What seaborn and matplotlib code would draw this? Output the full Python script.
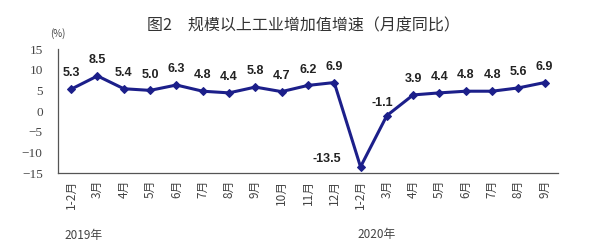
import matplotlib
matplotlib.use("Agg")
import matplotlib.pyplot as plt
import seaborn as sns
import pandas as pd
import numpy as np

months = ["1-2月", "3月", "4月", "5月", "6月", "7月", "8月", "9月", "10月", "11月", "12月",
          "1-2月", "3月", "4月", "5月", "6月", "7月", "8月", "9月"]
values = [5.3, 8.5, 5.4, 5.0, 6.3, 4.8, 4.4, 5.8, 4.7, 6.2, 6.9,
          -13.5, -1.1, 3.9, 4.4, 4.8, 4.8, 5.6, 6.9]
years = ["2019年", "2020年"]
yticks = [15, 10, 5, 0, -5, -10, -15]

sns.set_theme(style="white")
plt.rcParams['font.family'] = ['Noto Sans CJK SC', 'DejaVu Sans']

df = pd.DataFrame({"x": np.arange(len(values)), "v": values})

fig = plt.figure(figsize=(6, 2.49), dpi=100)
ax = fig.add_axes([0.0967, 0.305, 0.833, 0.498])
color = "#1c1f8a"
sns.lineplot(data=df, x="x", y="v", ax=ax, color=color, lw=2.2, marker="D",
             markersize=4.5, markeredgecolor=color, markerfacecolor=color)

ax.set_xlim(-0.5, len(values) - 0.5)
ax.set_ylim(-15, 15)
ax.set_yticks(yticks)
ax.set_yticklabels([str(t).replace("-", "−") for t in yticks], fontsize=9.5, color="#444444",
                   family=["Liberation Serif", "DejaVu Serif"])
ax.set_xticks(np.arange(len(values)))
ax.set_xticklabels(months, rotation=90, fontsize=8.5, color="#444444", va="top")
ax.set_xticks(np.arange(-0.5, len(values)), minor=True)
ax.tick_params(axis="x", which="major", length=0, pad=5)
ax.tick_params(axis="x", which="minor", length=3, direction="in", color="#555555", width=0.8)
ax.tick_params(axis="y", length=3, direction="out", color="#555555", width=0.8, pad=8)
ax.set_xlabel("")
ax.set_ylabel("")
for s in ["top", "right"]:
    ax.spines[s].set_visible(False)
for s in ["left", "bottom"]:
    ax.spines[s].set_color("#555555")
    ax.spines[s].set_linewidth(0.9)

for i, v in enumerate(values):
    dx, dy = 0, 7
    if v == -13.5:
        dx, dy = -24, 1
    elif v == -1.1:
        dx, dy = -3, 5
    ax.annotate(f"{v:.1f}", (i, v), xytext=(dx, dy), textcoords="offset points",
                ha="center", va="bottom", fontsize=9, fontweight="bold", color="#222222",
                family=["Liberation Sans", "DejaVu Sans"])

fig.text(0.505, 0.895, "图2　规模以上工业增加值增速（月度同比）", ha="center", va="center",
         fontsize=11.5, color="#333333")
fig.text(0.097, 0.865, "(%)", ha="center", va="center", fontsize=7, color="#444444")
fig.text(0.108, 0.055, years[0], ha="left", va="center", fontsize=8.5, color="#444444")
fig.text(0.595, 0.058, years[1], ha="left", va="center", fontsize=8.5, color="#444444")

fig.savefig("out.png", dpi=100)
